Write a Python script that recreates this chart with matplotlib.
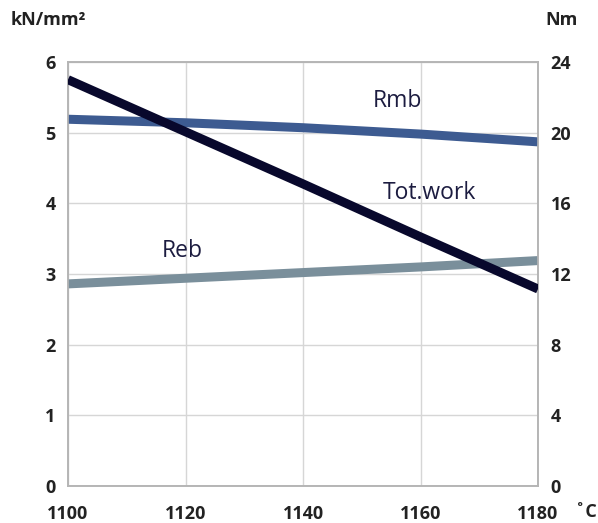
import matplotlib
matplotlib.use("Agg")
import matplotlib.pyplot as plt

temps = [1100, 1120, 1140, 1160, 1180]
rmb = [5.19, 5.14, 5.07, 4.98, 4.87]
reb = [2.86, 2.94, 3.02, 3.10, 3.19]
totwork = [23.0, 20.05, 17.1, 14.1, 11.15]

left_ticks = [0, 1, 2, 3, 4, 5, 6]
right_ticks = [0, 4, 8, 12, 16, 20, 24]

plt.rcParams['font.family'] = ['Open Sans', 'DejaVu Sans']

fig = plt.figure(figsize=(5.98, 5.23), dpi=100)
ax = fig.add_axes([68/598, 37/523, 470/598, 424/523])
ax2 = ax.twinx()

ax.set_xlim(1100, 1180)
ax.set_ylim(0, 6)
ax2.set_ylim(0, 24)

ax.set_xticks(temps)
ax.set_yticks(left_ticks)
ax2.set_yticks(right_ticks)

ax.grid(True, color='#d6d6d6', lw=1)
ax.set_axisbelow(True)

c_rmb = '#3d5b91'
c_reb = '#7a8f9b'
c_tot = '#08082c'

ax.plot(temps, rmb, color=c_rmb, lw=6.5, solid_capstyle='butt', zorder=3)
ax.plot(temps, reb, color=c_reb, lw=6.5, solid_capstyle='butt', zorder=3)
ax2.plot(temps, totwork, color=c_tot, lw=6.5, solid_capstyle='butt', zorder=3)

for a in (ax, ax2):
    for s in a.spines.values():
        s.set_color('#b5b5b5')
        s.set_linewidth(1.2)
    a.tick_params(length=0, labelsize=13, labelcolor='#222222')
    for lab in a.get_yticklabels() + a.get_xticklabels():
        lab.set_fontweight('bold')

ax.tick_params(axis='y', pad=9)
ax2.tick_params(axis='y', pad=9)
ax.tick_params(axis='x', pad=14)

tcol = '#1c1c40'
ax.text(1156.0, 5.45, 'Rmb', fontsize=16.5, color=tcol, ha='center', va='center')
ax.text(1161.6, 4.14, 'Tot.work', fontsize=16.5, color=tcol, ha='center', va='center')
ax.text(1119.4, 3.32, 'Reb', fontsize=16.5, color=tcol, ha='center', va='center')

fig.text(48/598, 1 - 20/523, 'kN/mm²', fontsize=13, fontweight='bold', color='#222222', ha='center', va='center')
fig.text(562/598, 1 - 20/523, 'Nm', fontsize=13, fontweight='bold', color='#222222', ha='center', va='center')
fig.text(586/598, 1 - 512/523, '˚C', fontsize=13, fontweight='bold', color='#222222', ha='center', va='center')

fig.savefig('out.png', dpi=100)
